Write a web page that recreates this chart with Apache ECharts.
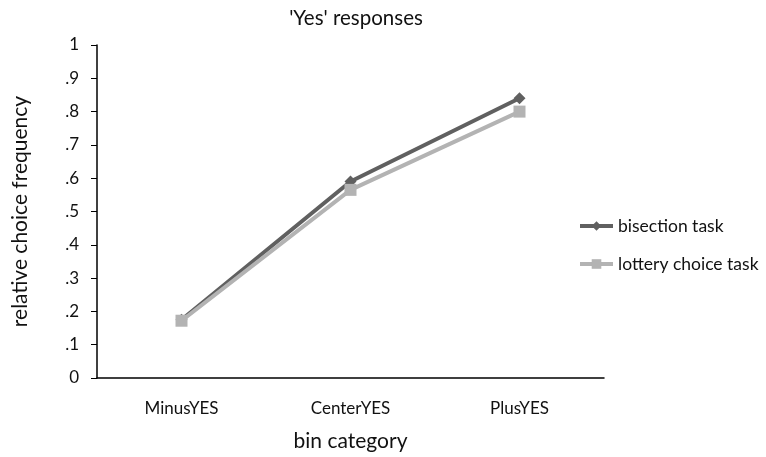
<!DOCTYPE html>
<html><head><meta charset="utf-8">
<script src="https://cdn.jsdelivr.net/npm/echarts@6/dist/echarts.min.js"></script>
<style>html,body{margin:0;padding:0;background:#fff}#c{width:766px;height:457px}</style>
</head><body><div id="c"></div>
<script>
const categories = ['MinusYES', 'CenterYES', 'PlusYES'];
const bisection = [0.175, 0.59, 0.84];
const lottery = [0.172, 0.565, 0.80];
const yTickLabels = ['0', '.1', '.2', '.3', '.4', '.5', '.6', '.7', '.8', '.9', '1'];

const FONT = 'Lato';
const TXT = '#111';
const chart = echarts.init(document.getElementById('c'));
chart.setOption({
  animation: false,
  title: { text: "'Yes' responses", left: 351, top: 3, textAlign: 'center',
    textStyle: { fontFamily: FONT, fontSize: 20.5, fontWeight: 'normal', color: TXT } },
  grid: { left: 97, right: 162, top: 45, bottom: 79, containLabel: false },
  legend: {
    orient: 'vertical', left: 573, top: 212, itemGap: 20, itemWidth: 33, itemHeight: 12,
    textStyle: { fontFamily: FONT, fontSize: 17.5, color: TXT },
    lineStyle: { width: 4 },
    data: ['bisection task', 'lottery choice task']
  },
  xAxis: {
    type: 'category', data: categories, boundaryGap: true,
    name: 'bin category', nameLocation: 'middle', nameGap: 53,
    nameTextStyle: { fontFamily: FONT, fontSize: 21, color: TXT },
    axisLine: { lineStyle: { color: '#000', width: 1.5 } },
    axisTick: { alignWithLabel: true, length: 5, lineStyle: { color: '#000' } },
    axisLabel: { fontFamily: FONT, fontSize: 17, color: TXT, margin: 22 }
  },
  yAxis: {
    type: 'value', min: 0, max: 1, interval: 0.1,
    name: 'relative choice frequency', nameLocation: 'middle', nameGap: 66,
    nameTextStyle: { fontFamily: FONT, fontSize: 21, color: TXT },
    axisLine: { show: true, lineStyle: { color: '#000', width: 1.5 } },
    axisTick: { show: true, length: 6, lineStyle: { color: '#000' } },
    splitLine: { show: false },
    axisLabel: { fontFamily: FONT, fontSize: 17, color: TXT, margin: 18,
      formatter: v => yTickLabels[Math.round(v * 10)] }
  },
  series: [
    { name: 'bisection task', type: 'line', data: bisection, symbol: 'diamond', symbolSize: 12,
      lineStyle: { width: 4, color: '#606060' }, itemStyle: { color: '#606060' } },
    { name: 'lottery choice task', type: 'line', data: lottery, symbol: 'rect', symbolSize: 12,
      lineStyle: { width: 4, color: '#b3b3b3' }, itemStyle: { color: '#b3b3b3' } }
  ]
});
</script></body></html>
